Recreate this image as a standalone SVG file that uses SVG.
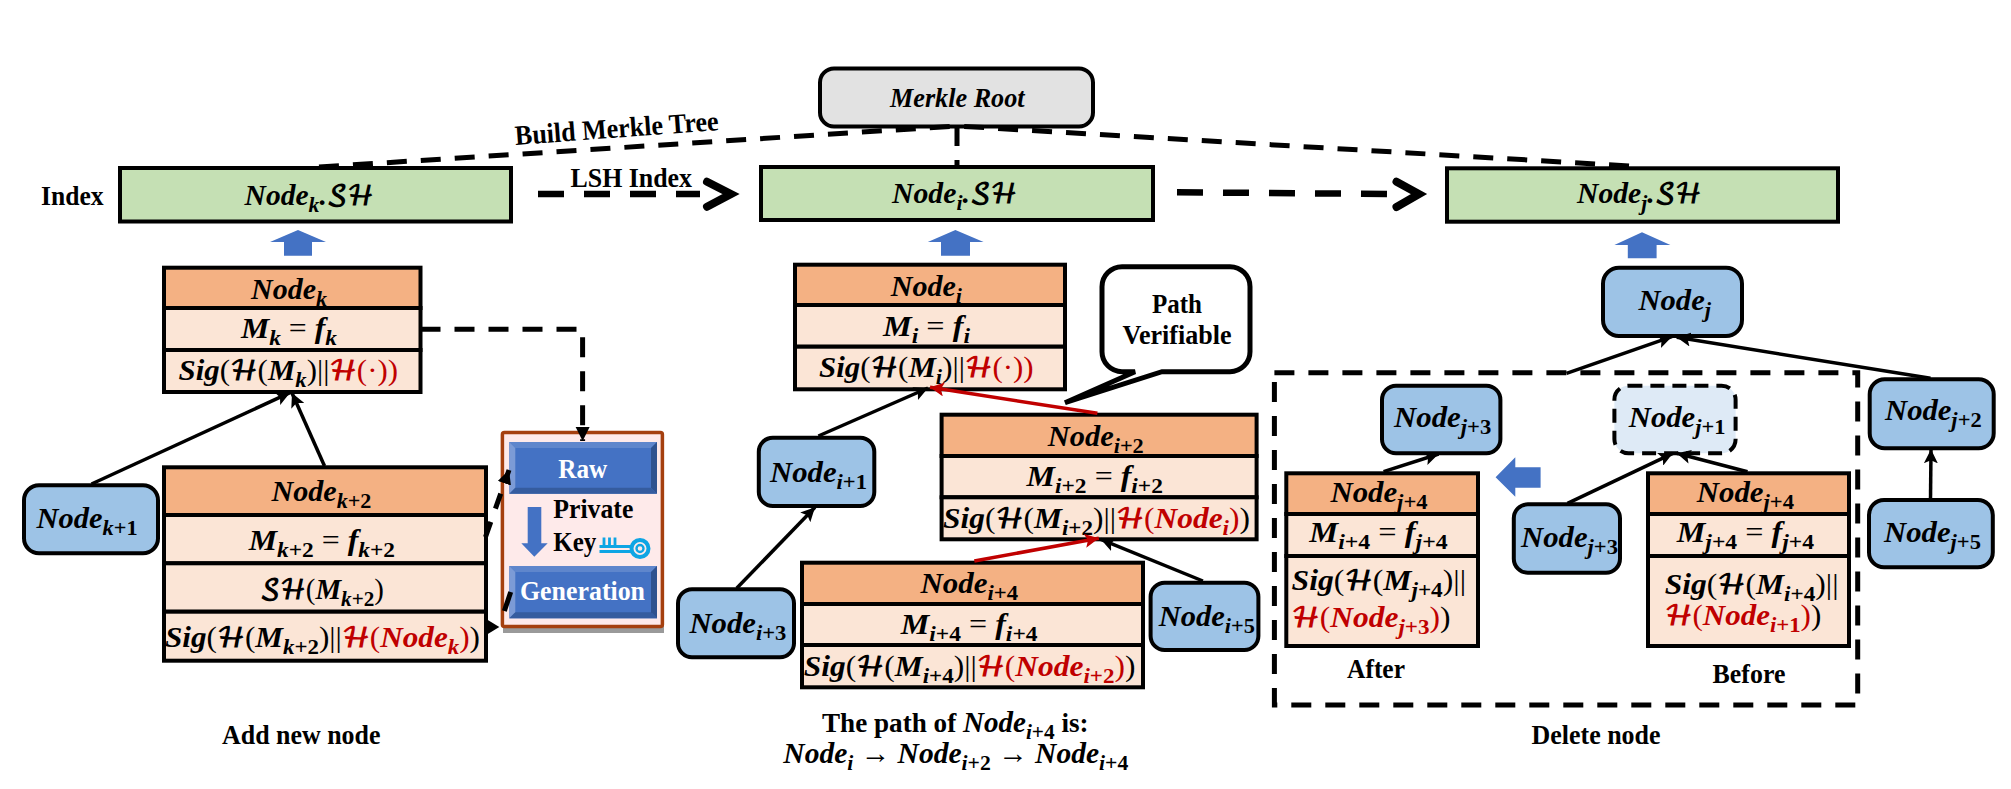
<svg xmlns="http://www.w3.org/2000/svg" width="2011" height="789" viewBox="0 0 2011 789">
<style>
text{font-family:"Liberation Serif","DejaVu Serif",serif;fill:#000}
.t{font-size:28px;font-weight:bold}
.c{text-anchor:middle}
.w{fill:#fff}
.m{font-size:30px;font-weight:bold;font-style:italic}
.s{font-size:22px;baseline-shift:-7px}
.n{font-style:normal}
.u{font-weight:normal;font-style:normal}
.h{font-family:"DejaVu Math TeX Gyre","DejaVu Sans",serif;font-style:normal;font-weight:bold;font-size:27px}
.r,.r tspan{fill:#c00000}
.g{fill:#c5e0b4;stroke:#000;stroke-width:4}
.o{fill:#f4b183;stroke:#000;stroke-width:4}
.p{fill:#fbe5d6;stroke:#000;stroke-width:4}
.b{fill:#9dc3e6;stroke:#000;stroke-width:4}
.up{fill:#4472c4}
.l{fill:none;stroke:#000;stroke-width:3.5;marker-end:url(#a)}
.lr{fill:none;stroke:#c00000;stroke-width:3.5;marker-end:url(#ar)}
.d{fill:none;stroke:#000;stroke-width:5;stroke-dasharray:20 14}
.dh{fill:none;stroke:#000;stroke-width:6.5;stroke-dasharray:26 20}
.ch{fill:none;stroke:#000;stroke-width:8;stroke-linecap:round;stroke-linejoin:miter}
.key{fill:none;stroke:#0ea5e4}
</style>
<defs>
<marker id="a" markerUnits="userSpaceOnUse" markerWidth="16" markerHeight="14" refX="14" refY="7" orient="auto"><path d="M0,0L14,7L0,14L3,7z" fill="#000"/></marker>
<marker id="ar" markerUnits="userSpaceOnUse" markerWidth="16" markerHeight="14" refX="14" refY="7" orient="auto"><path d="M0,0L14,7L0,14L3,7z" fill="#c00000"/></marker>
<marker id="t" markerUnits="userSpaceOnUse" markerWidth="16" markerHeight="16" refX="14" refY="7" orient="auto"><path d="M0,0L14,7L0,14z" fill="#000"/></marker>
</defs>
<rect width="2011" height="789" fill="#fff"/>

<g id="root">
<rect x="820" y="68.5" width="273" height="58" rx="14" fill="#e2e2e2" stroke="#000" stroke-width="4"/>
<text class="t" x="890" y="106.5" font-style="italic" textLength="134.6" lengthAdjust="spacingAndGlyphs">Merkle Root</text>
</g>

<g id="labels">
<text class="t" x="41" y="205" textLength="62.5" lengthAdjust="spacingAndGlyphs">Index</text>
<text class="t" x="515.6" y="145" transform="rotate(-4.2 515.6 145)" textLength="204" lengthAdjust="spacingAndGlyphs">Build Merkle Tree</text>
<text class="t" x="570.5" y="186.7" textLength="121.5" lengthAdjust="spacingAndGlyphs">LSH Index</text>
<text class="t" x="222" y="744" textLength="158.5" lengthAdjust="spacingAndGlyphs">Add new node</text>
<text class="t" x="1531.5" y="744" textLength="129" lengthAdjust="spacingAndGlyphs">Delete node</text>
<text class="t" x="1347" y="678.3" textLength="58" lengthAdjust="spacingAndGlyphs">After</text>
<text class="t" x="1712.6" y="682.7" textLength="72.8" lengthAdjust="spacingAndGlyphs">Before</text>
<text class="t" x="822" y="731.7" textLength="266.6" lengthAdjust="spacingAndGlyphs">The path of <tspan class="m">Node<tspan class="s">i<tspan class="n">+4</tspan></tspan></tspan> is:</text>
<text class="m" x="783.3" y="762.7" textLength="345" lengthAdjust="spacingAndGlyphs">Node<tspan class="s">i</tspan><tspan class="u"> → </tspan>Node<tspan class="s">i<tspan class="n">+2</tspan></tspan><tspan class="u"> → </tspan>Node<tspan class="s">i<tspan class="n">+4</tspan></tspan></text>
</g>

<g id="index-k"><rect class="g" x="120" y="168" width="391" height="53.5"/><text class="m" x="244.6" y="205" textLength="129" lengthAdjust="spacingAndGlyphs">Node<tspan class="s">k</tspan>.<tspan class="h">𝒮ℋ</tspan></text></g>
<g id="index-i"><rect class="g" x="761" y="167" width="392" height="53"/><text class="m" x="892" y="203" textLength="125" lengthAdjust="spacingAndGlyphs">Node<tspan class="s">i</tspan>.<tspan class="h">𝒮ℋ</tspan></text></g>
<g id="index-j"><rect class="g" x="1447" y="168.3" width="391" height="53.4"/><text class="m" x="1577" y="202.7" textLength="124.6" lengthAdjust="spacingAndGlyphs">Node<tspan class="s">j</tspan>.<tspan class="h">𝒮ℋ</tspan></text></g>

<g id="block-arrows">
<path class="up" d="M298,230L326,242H312V255.7H284V242H270z"/>
<path class="up" d="M955.4,230L983.6,242H970V255.7H941V242H927.8z"/>
<path class="up" d="M1642,232.3L1670.4,245H1656.6V258.3H1627.8V245H1614.4z"/>
<path class="up" d="M1495.6,477.3L1515.3,457.3V467.3H1540.6V487.7H1515.3V496.7z"/>
</g>

<g id="node-k">
<rect class="o" x="164" y="267.7" width="256.5" height="40.3"/><rect class="p" x="164" y="308" width="256.5" height="42"/><rect class="p" x="164" y="350" width="256.5" height="42"/>
<text class="m" x="251" y="299" textLength="76" lengthAdjust="spacingAndGlyphs">Node<tspan class="s">k</tspan></text>
<text class="m" x="241" y="338" textLength="96" lengthAdjust="spacingAndGlyphs">M<tspan class="s">k</tspan> <tspan class="u">=</tspan> f<tspan class="s">k</tspan></text>
<text class="m" x="178.6" y="380" textLength="219.4" lengthAdjust="spacingAndGlyphs">Sig<tspan class="u">(</tspan><tspan class="h">ℋ</tspan><tspan class="u">(</tspan>M<tspan class="s">k</tspan><tspan class="u">)||</tspan><tspan class="r"><tspan class="h">ℋ</tspan><tspan class="u">(·))</tspan></tspan></text>
</g>

<g id="node-k2">
<rect class="o" x="164" y="467.3" width="322" height="47.7"/><rect class="p" x="164" y="515" width="322" height="48.3"/><rect class="p" x="164" y="563.3" width="322" height="48.4"/><rect class="p" x="164" y="611.7" width="322" height="49"/>
<text class="m" x="271.4" y="500.7" textLength="100" lengthAdjust="spacingAndGlyphs">Node<tspan class="s">k<tspan class="n">+2</tspan></tspan></text>
<text class="m" x="248.7" y="550" textLength="146.3" lengthAdjust="spacingAndGlyphs">M<tspan class="s">k<tspan class="n">+2</tspan></tspan> <tspan class="u">=</tspan> f<tspan class="s">k<tspan class="n">+2</tspan></tspan></text>
<text class="m" x="260" y="599" textLength="124" lengthAdjust="spacingAndGlyphs"><tspan class="h">𝒮ℋ</tspan><tspan class="u">(</tspan>M<tspan class="s">k<tspan class="n">+2</tspan></tspan><tspan class="u">)</tspan></text>
<text class="m" x="165" y="646.7" textLength="315" lengthAdjust="spacingAndGlyphs">Sig<tspan class="u">(</tspan><tspan class="h">ℋ</tspan><tspan class="u">(</tspan>M<tspan class="s">k<tspan class="n">+2</tspan></tspan><tspan class="u">)||</tspan><tspan class="r"><tspan class="h">ℋ</tspan><tspan class="u">(</tspan>Node<tspan class="s">k</tspan><tspan class="u">)</tspan></tspan><tspan class="u">)</tspan></text>
</g>

<g id="node-k1"><rect class="b" x="24" y="485.3" width="134" height="68" rx="15"/><text class="m" x="36.6" y="528.3" textLength="101" lengthAdjust="spacingAndGlyphs">Node<tspan class="s">k<tspan class="n">+1</tspan></tspan></text></g>

<g id="keygen">
<rect x="503" y="622" width="161" height="11" fill="#9a9a9a"/>
<rect x="502.4" y="432.4" width="160" height="194" rx="2" fill="#feeaea" stroke="#a5400f" stroke-width="3.5"/>
<g id="raw">
<rect x="509.3" y="442" width="147.7" height="51.7" fill="#4472c4"/>
<path d="M509.3,442H657L651,448H515.3z" fill="#5f86cc"/><path d="M509.3,442V493.7L515.3,487.7V448z" fill="#7c9bd6"/><path d="M657,442V493.7L651,487.7V448z" fill="#2f528f"/><path d="M509.3,493.7H657L651,487.7H515.3z" fill="#355c9f"/>
<text class="t w" x="558.3" y="478" textLength="49" lengthAdjust="spacingAndGlyphs">Raw</text>
</g>
<g id="gen">
<rect x="509.3" y="566" width="147.7" height="52.3" fill="#4472c4"/>
<path d="M509.3,566H657L651,572H515.3z" fill="#5f86cc"/><path d="M509.3,566V618.3L515.3,612.3V572z" fill="#7c9bd6"/><path d="M657,566V618.3L651,612.3V572z" fill="#2f528f"/><path d="M509.3,618.3H657L651,612.3H515.3z" fill="#355c9f"/>
<text class="t w" x="520" y="600" textLength="125" lengthAdjust="spacingAndGlyphs">Generation</text>
</g>
<path class="up" d="M527.7,507H541.3V543.3H547.7L534.3,556.7L521.3,543.3H527.7z"/>
<text class="t" x="553.3" y="518" textLength="80" lengthAdjust="spacingAndGlyphs">Private</text>
<text class="t" x="553.3" y="550.7" textLength="43" lengthAdjust="spacingAndGlyphs">Key</text>
<g id="key-icon">
<circle class="key" cx="640" cy="548.5" r="8.5" stroke-width="4"/><circle class="key" cx="640" cy="548.5" r="3.5" stroke-width="2.4"/>
<path class="key" stroke-width="2.8" d="M599.5,546.5H631M599.5,551.5H631M604,546V537.5M609.5,546V537.5M615,546V537.5"/>
</g>
</g>

<g id="node-i">
<rect class="o" x="795" y="264.7" width="270" height="40.3"/><rect class="p" x="795" y="305" width="270" height="41.7"/><rect class="p" x="795" y="346.7" width="270" height="42.6"/>
<text class="m" x="890.7" y="296" textLength="71.3" lengthAdjust="spacingAndGlyphs">Node<tspan class="s">i</tspan></text>
<text class="m" x="883" y="336" textLength="87" lengthAdjust="spacingAndGlyphs">M<tspan class="s">i</tspan> <tspan class="u">=</tspan> f<tspan class="s">i</tspan></text>
<text class="m" x="819" y="377" textLength="214.6" lengthAdjust="spacingAndGlyphs">Sig<tspan class="u">(</tspan><tspan class="h">ℋ</tspan><tspan class="u">(</tspan>M<tspan class="s">i</tspan><tspan class="u">)||</tspan><tspan class="r"><tspan class="h">ℋ</tspan><tspan class="u">(·))</tspan></tspan></text>
</g>

<g id="callout">
<path d="M1122,266.7H1230A20,20 0 0 1 1250,286.7V351.7A20,20 0 0 1 1230,371.7H1162L1065,402.7L1135,371.7H1122A20,20 0 0 1 1102,351.7V286.7A20,20 0 0 1 1122,266.7Z" fill="#fff" stroke="#000" stroke-width="5"/>
<text class="t" x="1152" y="313" textLength="50" lengthAdjust="spacingAndGlyphs">Path</text>
<text class="t" x="1122.5" y="344" textLength="109" lengthAdjust="spacingAndGlyphs">Verifiable</text>
</g>

<g id="node-i2">
<rect class="o" x="941.6" y="414.7" width="315" height="41.3"/><rect class="p" x="941.6" y="456" width="315" height="41.3"/><rect class="p" x="941.6" y="497.3" width="315" height="42"/>
<text class="m" x="1047.8" y="445.7" textLength="96" lengthAdjust="spacingAndGlyphs">Node<tspan class="s">i<tspan class="n">+2</tspan></tspan></text>
<text class="m" x="1026.5" y="486" textLength="136.5" lengthAdjust="spacingAndGlyphs">M<tspan class="s">i<tspan class="n">+2</tspan></tspan> <tspan class="u">=</tspan> f<tspan class="s">i<tspan class="n">+2</tspan></tspan></text>
<text class="m" x="943" y="528" textLength="307" lengthAdjust="spacingAndGlyphs">Sig<tspan class="u">(</tspan><tspan class="h">ℋ</tspan><tspan class="u">(</tspan>M<tspan class="s">i<tspan class="n">+2</tspan></tspan><tspan class="u">)||</tspan><tspan class="r"><tspan class="h">ℋ</tspan><tspan class="u">(</tspan>Node<tspan class="s">i</tspan><tspan class="u">)</tspan></tspan><tspan class="u">)</tspan></text>
</g>

<g id="node-i1"><rect class="b" x="758.8" y="437.7" width="115.5" height="68.3" rx="14"/><text class="m" x="770" y="481.7" textLength="97" lengthAdjust="spacingAndGlyphs">Node<tspan class="s">i<tspan class="n">+1</tspan></tspan></text></g>
<g id="node-i3"><rect class="b" x="678" y="589.3" width="116" height="68" rx="14"/><text class="m" x="689.4" y="632.7" textLength="97" lengthAdjust="spacingAndGlyphs">Node<tspan class="s">i<tspan class="n">+3</tspan></tspan></text></g>
<g id="node-i5"><rect class="b" x="1150.6" y="582.7" width="107.8" height="67.3" rx="14"/><text class="m" x="1158.8" y="626" textLength="96.2" lengthAdjust="spacingAndGlyphs">Node<tspan class="s">i<tspan class="n">+5</tspan></tspan></text></g>

<g id="node-i4">
<rect class="o" x="802" y="562.7" width="341" height="41.3"/><rect class="p" x="802" y="604" width="341" height="41"/><rect class="p" x="802" y="645" width="341" height="42.3"/>
<text class="m" x="920.4" y="593.3" textLength="97.6" lengthAdjust="spacingAndGlyphs">Node<tspan class="s">i<tspan class="n">+4</tspan></tspan></text>
<text class="m" x="900.8" y="634" textLength="136.8" lengthAdjust="spacingAndGlyphs">M<tspan class="s">i<tspan class="n">+4</tspan></tspan> <tspan class="u">=</tspan> f<tspan class="s">i<tspan class="n">+4</tspan></tspan></text>
<text class="m" x="803.7" y="676" textLength="331.8" lengthAdjust="spacingAndGlyphs">Sig<tspan class="u">(</tspan><tspan class="h">ℋ</tspan><tspan class="u">(</tspan>M<tspan class="s">i<tspan class="n">+4</tspan></tspan><tspan class="u">)||</tspan><tspan class="r"><tspan class="h">ℋ</tspan><tspan class="u">(</tspan>Node<tspan class="s">i<tspan class="n">+2</tspan></tspan><tspan class="u">)</tspan></tspan><tspan class="u">)</tspan></text>
</g>

<g id="node-j"><rect class="b" x="1603" y="267.7" width="139" height="68.3" rx="16"/><text class="m" x="1638.4" y="310" textLength="72.6" lengthAdjust="spacingAndGlyphs">Node<tspan class="s">j</tspan></text></g>
<g id="node-j3a"><rect class="b" x="1382" y="385.7" width="118.4" height="67.6" rx="14"/><text class="m" x="1394" y="426.7" textLength="97.3" lengthAdjust="spacingAndGlyphs">Node<tspan class="s">j<tspan class="n">+3</tspan></tspan></text></g>
<g id="node-j1"><rect x="1614.4" y="385.7" width="121.2" height="67.6" rx="14" fill="#deeaf6" stroke="#000" stroke-width="4" stroke-dasharray="14 8"/><text class="m" x="1628.8" y="426.7" textLength="96.7" lengthAdjust="spacingAndGlyphs">Node<tspan class="s">j<tspan class="n">+1</tspan></tspan></text></g>
<g id="node-j2"><rect class="b" x="1869.7" y="379.3" width="124" height="69" rx="15"/><text class="m" x="1885" y="420" textLength="96.7" lengthAdjust="spacingAndGlyphs">Node<tspan class="s">j<tspan class="n">+2</tspan></tspan></text></g>
<g id="node-j5"><rect class="b" x="1869" y="500" width="123.8" height="67.3" rx="15"/><text class="m" x="1884" y="541.7" textLength="97" lengthAdjust="spacingAndGlyphs">Node<tspan class="s">j<tspan class="n">+5</tspan></tspan></text></g>
<g id="node-j3b"><rect class="b" x="1513.8" y="504.3" width="106.2" height="68.4" rx="14"/><text class="m" x="1521" y="546.7" textLength="97" lengthAdjust="spacingAndGlyphs">Node<tspan class="s">j<tspan class="n">+3</tspan></tspan></text></g>

<g id="node-j4-after">
<rect class="o" x="1286.3" y="473.3" width="191.7" height="40.7"/><rect class="p" x="1286.3" y="514" width="191.7" height="42"/><rect class="p" x="1286.3" y="556" width="191.7" height="90"/>
<text class="m" x="1330.4" y="501.7" textLength="97.2" lengthAdjust="spacingAndGlyphs">Node<tspan class="s">j<tspan class="n">+4</tspan></tspan></text>
<text class="m" x="1309.3" y="542.3" textLength="138.4" lengthAdjust="spacingAndGlyphs">M<tspan class="s">i<tspan class="n">+4</tspan></tspan> <tspan class="u">=</tspan> f<tspan class="s">j<tspan class="n">+4</tspan></tspan></text>
<text class="m" x="1291.6" y="590" textLength="174.4" lengthAdjust="spacingAndGlyphs">Sig<tspan class="u">(</tspan><tspan class="h">ℋ</tspan><tspan class="u">(</tspan>M<tspan class="s">j<tspan class="n">+4</tspan></tspan><tspan class="u">)||</tspan></text>
<text class="m" x="1291.6" y="626.7" textLength="159" lengthAdjust="spacingAndGlyphs"><tspan class="r"><tspan class="h">ℋ</tspan><tspan class="u">(</tspan>Node<tspan class="s">j<tspan class="n">+3</tspan></tspan><tspan class="u">)</tspan></tspan><tspan class="u">)</tspan></text>
</g>
<g id="node-j4-before">
<rect class="o" x="1648" y="473.3" width="201" height="40.7"/><rect class="p" x="1648" y="514" width="201" height="42"/><rect class="p" x="1648" y="556" width="201" height="90"/>
<text class="m" x="1696.8" y="501.7" textLength="97.2" lengthAdjust="spacingAndGlyphs">Node<tspan class="s">j<tspan class="n">+4</tspan></tspan></text>
<text class="m" x="1676.7" y="542.3" textLength="137.3" lengthAdjust="spacingAndGlyphs">M<tspan class="s">j<tspan class="n">+4</tspan></tspan> <tspan class="u">=</tspan> f<tspan class="s">j<tspan class="n">+4</tspan></tspan></text>
<text class="m" x="1664.7" y="594" textLength="173.8" lengthAdjust="spacingAndGlyphs">Sig<tspan class="u">(</tspan><tspan class="h">ℋ</tspan><tspan class="u">(</tspan>M<tspan class="s">i<tspan class="n">+4</tspan></tspan><tspan class="u">)||</tspan></text>
<text class="m" x="1664.7" y="625" textLength="156.6" lengthAdjust="spacingAndGlyphs"><tspan class="r"><tspan class="h">ℋ</tspan><tspan class="u">(</tspan>Node<tspan class="s">i<tspan class="n">+1</tspan></tspan><tspan class="u">)</tspan></tspan><tspan class="u">)</tspan></text>
</g>

<g id="connectors">
<path class="d" d="M319,167L957,126"/>
<path class="d" d="M1629,166L957,126"/>
<path class="d" d="M957,126V167"/>
<path class="dh" d="M538,194H700"/>
<path class="ch" d="M707,181.7L731,194L707,206.7"/>
<path class="dh" d="M1177,192.3L1390,194"/>
<path class="ch" d="M1396.5,181.7L1419,194L1396.5,207"/>
<path class="d" d="M420.5,329.3H582.6V441" marker-end="url(#t)"/>
<path class="d" style="stroke-dasharray:16 14" d="M485.5,537L509,470" marker-end="url(#t)"/>
<path class="d" d="M510.7,592L499,627" style="stroke-dasharray:20 40"/>
<path d="M487,619.5L499.3,627L487,634.5z" fill="#000"/>
<path class="l" d="M91.5,484L290,392.7"/>
<path class="l" d="M324.5,466L292,393"/>
<path class="l" d="M818.4,436L928,388"/>
<path class="lr" d="M1097.4,413.3L930,387.3"/>
<path class="l" d="M736.7,588.3L815,507.3"/>
<path class="lr" d="M974.3,561L1098.8,538.3"/>
<path class="l" d="M1202.9,581L1100.8,539.3"/>
<path class="l" d="M1566.5,373.3L1671.9,336.7"/>
<path class="l" d="M1930.5,378.3L1676.7,337.3"/>
<path class="l" d="M1383.6,471.7L1438.6,454"/>
<path class="l" d="M1747.5,471.7L1676.7,453.3"/>
<path class="l" d="M1567.5,503.3L1672.8,453.3"/>
<path class="l" d="M1930.5,499.3L1931,449.3"/>
<path class="d" d="M1274.4,372.7H1857.7V705H1274.4Z"/>
</g>
</svg>
